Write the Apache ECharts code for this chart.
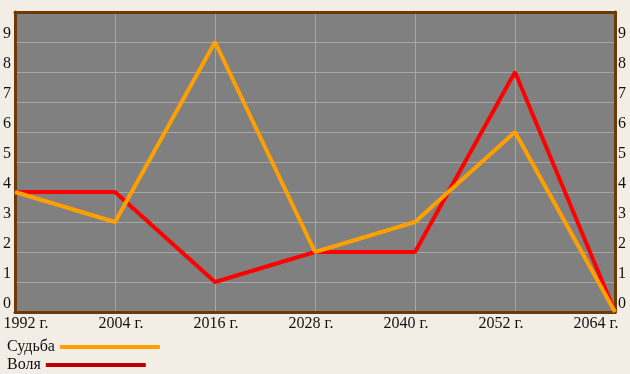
<!DOCTYPE html>
<html><head><meta charset="utf-8">
<script src="https://cdn.jsdelivr.net/npm/echarts@6/dist/echarts.min.js"></script>
<style>html,body{margin:0;padding:0;background:#f2eee6;}#c{width:630px;height:374px;}</style>
</head><body><div id="c"></div>
<script>
var categories = ['1992 г.', '2004 г.', '2016 г.', '2028 г.', '2040 г.', '2052 г.', '2064 г.'];
var sudba = [4, 3, 9, 2, 3, 6, 0];
var volya = [4, 4, 1, 2, 2, 8, 0];
var seriesNames = ['Судьба', 'Воля'];
var FONT = '"Liberation Serif", "DejaVu Serif", serif';
var BORDER = {show: true, onZero: false, lineStyle: {color: '#6a3b07', width: 3}};
var chart = echarts.init(document.getElementById('c'), null, {renderer: 'canvas'});
var yLab = {show: true, fontFamily: FONT, fontSize: 16, color: '#111', verticalAlign: 'bottom', showMaxLabel: false};
function legendFor(name, color, top) {
  return {
    orient: 'vertical', left: 2, top: top, align: 'right', itemGap: 4,
    itemWidth: 100, itemHeight: 4, icon: 'rect',
    textStyle: {fontFamily: FONT, fontSize: 16, color: '#111', padding: [0, 0, 0, 0]},
    data: [{name: name, itemStyle: {color: color}}]
  };
}
chart.setOption({
  backgroundColor: '#f2eee6',
  animation: false,
  grid: [
    {left: 13, right: 15, top: 12, bottom: 62, show: true, backgroundColor: '#808080', borderWidth: 0, z: 0},
    {left: 26, right: 34, top: 311, height: 1, show: false}
  ],
  legend: [
    legendFor(seriesNames[0], '#ffa000', 334),
    legendFor(seriesNames[1], '#c00000', 352)
  ],
  xAxis: [
    {type: 'category', gridIndex: 0, data: categories, boundaryGap: false, position: 'bottom',
     axisLine: BORDER, axisTick: {show: false}, axisLabel: {show: false},
     splitLine: {show: true, lineStyle: {color: '#a6a6a6', width: 1}}},
    {type: 'category', gridIndex: 1, data: categories, boundaryGap: false,
     axisLine: {show: false}, axisTick: {show: false},
     axisLabel: {fontFamily: FONT, fontSize: 16, color: '#111', margin: 4, interval: 0},
     splitLine: {show: false}},
    {type: 'category', gridIndex: 0, data: categories, boundaryGap: false, position: 'top',
     axisLine: BORDER, axisTick: {show: false}, axisLabel: {show: false}, splitLine: {show: false}}
  ],
  yAxis: [
    {type: 'value', gridIndex: 0, min: 0, max: 10, interval: 1, position: 'left',
     axisLine: BORDER, axisTick: {show: false},
     axisLabel: Object.assign({margin: 4}, yLab),
     splitLine: {show: true, lineStyle: {color: '#a6a6a6', width: 1}}},
    {type: 'value', gridIndex: 0, position: 'right', min: 0, max: 10, interval: 1,
     axisLine: BORDER, axisTick: {show: false},
     axisLabel: Object.assign({margin: 3}, yLab),
     splitLine: {show: false}},
    {type: 'value', gridIndex: 1, show: false}
  ],
  series: [
    {name: seriesNames[0], type: 'line', xAxisIndex: 0, yAxisIndex: 0, data: sudba,
     symbol: 'none', color: '#ffa000', lineStyle: {width: 4, color: '#ffa000'}, z: 3},
    {name: seriesNames[1], type: 'line', xAxisIndex: 0, yAxisIndex: 0, data: volya,
     symbol: 'none', color: '#ff0000', lineStyle: {width: 4, color: '#ff0000'}, z: 2}
  ]
});
</script></body></html>
